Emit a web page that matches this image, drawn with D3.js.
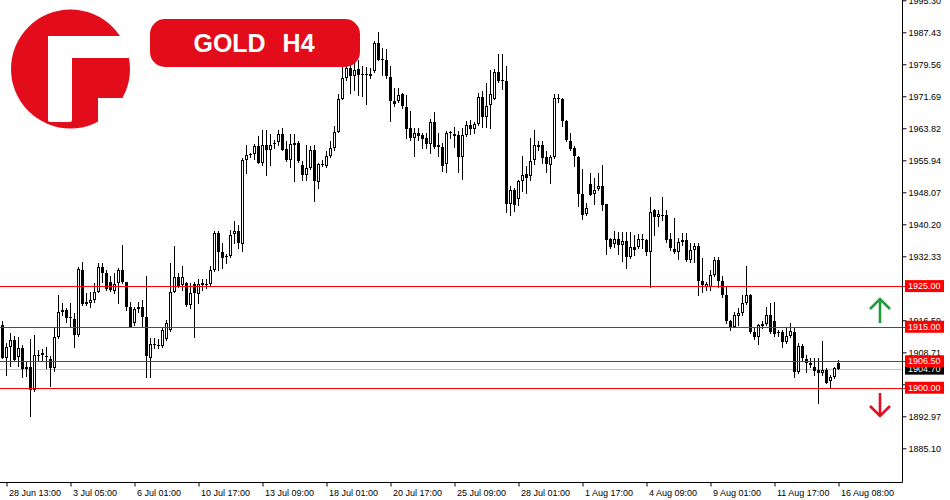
<!DOCTYPE html>
<html><head><meta charset="utf-8">
<script src="https://cdn.jsdelivr.net/npm/d3@7"></script>
<style>html,body{margin:0;padding:0;background:#fff;overflow:hidden}</style>
</head><body>
<svg id="chart" width="950" height="500"></svg>
<script>
// ---- DATA (GOLD H4) ----
const opens = [
1915.4,1907.4,1910.1,1911.8,1907.6,1909.8,1904.6,1905.1,1899.5,1908.1,
1908.6,1907.8,1907.1,1904.9,1912.6,1918.6,1919.1,1917.5,1916.9,1913.0,
1929.0,1920.5,1920.9,1921.6,1923.6,1929.8,1928.2,1926.1,1923.9,1925.7,
1929.0,1925.9,1919.8,1916.0,1919.3,1919.8,1917.5,1907.4,1910.7,1910.5,
1910.3,1911.9,1914.2,1923.6,1927.3,1925.3,1925.8,1920.4,1925.5,1923.1,
1925.3,1925.5,1925.5,1929.0,1938.1,1933.4,1932.3,1932.3,1937.7,1938.5,
1935.4,1956.1,1957.3,1957.6,1959.4,1955.3,1959.8,1958.4,1960.0,1960.5,
1962.4,1958.8,1955.9,1959.8,1960.2,1954.9,1952.4,1954.1,1958.6,1950.5,
1955.0,1954.5,1956.9,1959.0,1962.9,1971.1,1976.2,1978.7,1976.6,1978.5,
1977.2,1977.1,1977.2,1977.8,1984.8,1980.9,1980.7,1976.4,1970.5,1970.6,
1972.3,1969.1,1963.9,1961.4,1962.7,1962.1,1961.4,1960.0,1965.4,1959.6,
1959.2,1955.1,1962.7,1962.4,1962.1,1956.7,1962.1,1964.6,1963.7,1964.9,
1971.5,1966.6,1969.5,1971.1,1977.7,1975.7,1975.4,1945.3,1948.6,1946.5,
1950.9,1952.6,1952.0,1955.9,1959.6,1959.6,1956.8,1954.9,1956.7,1971.3,
1971.0,1965.7,1960.8,1959.0,1956.7,1947.7,1942.8,1950.1,1947.7,1949.0,
1949.6,1945.2,1936.7,1935.4,1936.7,1935.0,1936.0,1932.2,1934.5,1934.7,
1936.7,1936.4,1933.5,1943.6,1941.9,1942.5,1942.5,1936.5,1934.1,1933.5,
1936.4,1936.4,1931.3,1933.9,1934.9,1926.3,1924.9,1924.9,1927.7,1931.3,
1926.3,1922.8,1916.4,1915.0,1917.7,1918.3,1920.8,1922.8,1913.8,1912.4,
1915.2,1915.7,1917.9,1916.4,1913.8,1913.8,1911.3,1912.7,1913.8,1903.9,
1910.3,1907.0,1906.2,1905.0,1904.4,1903.6,1904.4,1901.7,1902.6,1906.2];

const highs = [
1916.3,1911.0,1913.5,1912.7,1912.5,1910.5,1906.6,1912.0,1913.0,1909.3,
1909.5,1910.0,1907.8,1914.7,1922.8,1920.8,1919.6,1920.8,1918.4,1929.8,
1931.0,1923.3,1923.6,1925.8,1930.6,1930.6,1929.0,1927.5,1928.2,1929.5,
1935.1,1926.1,1921.2,1919.9,1921.2,1921.6,1927.5,1912.2,1912.2,1912.0,
1914.7,1916.7,1930.6,1934.9,1928.2,1930.0,1926.0,1925.8,1926.0,1926.8,
1926.8,1926.8,1930.0,1938.6,1938.6,1935.6,1932.9,1938.9,1940.9,1940.1,
1956.5,1959.8,1957.8,1960.0,1962.0,1963.5,1963.5,1962.3,1961.0,1963.5,
1963.9,1960.8,1962.3,1962.3,1960.6,1955.7,1959.6,1959.4,1959.8,1955.3,
1956.1,1958.2,1960.6,1964.3,1972.3,1979.5,1979.9,1979.5,1980.7,1980.7,
1979.1,1978.8,1978.7,1985.2,1987.5,1983.6,1983.2,1979.1,1973.7,1973.7,
1972.5,1972.1,1968.0,1963.9,1963.9,1962.7,1962.7,1966.2,1967.8,1962.7,
1960.2,1963.1,1963.1,1964.1,1963.1,1963.9,1965.5,1965.9,1965.4,1972.5,
1973.1,1975.0,1978.2,1978.5,1982.1,1982.1,1979.1,1949.6,1949.1,1951.2,
1956.9,1954.5,1961.4,1963.5,1960.6,1960.6,1958.2,1957.3,1972.3,1972.3,
1971.3,1965.9,1962.7,1959.4,1956.9,1953.9,1945.5,1952.8,1951.6,1952.8,
1954.7,1945.2,1936.8,1938.6,1938.3,1938.3,1938.3,1938.4,1937.6,1937.8,
1937.8,1936.6,1947.0,1943.9,1943.7,1946.8,1943.6,1938.0,1941.7,1936.8,
1938.0,1938.1,1935.5,1935.5,1935.5,1931.8,1926.1,1929.0,1932.2,1932.2,
1927.5,1924.9,1916.7,1918.7,1919.5,1922.8,1930.0,1923.0,1915.0,1915.7,
1916.3,1919.9,1920.8,1921.2,1914.2,1914.2,1914.6,1916.0,1914.6,1911.1,
1910.8,1908.1,1907.2,1907.2,1907.2,1911.6,1904.8,1903.2,1905.2,1906.7];

const lows = [
1907.2,1903.1,1905.3,1906.6,1905.3,1902.6,1902.9,1893.1,1899.2,1906.8,
1906.8,1904.9,1900.4,1904.2,1912.2,1917.9,1916.2,1915.0,1910.1,1912.7,
1920.4,1920.4,1919.9,1921.2,1923.6,1926.1,1924.1,1923.8,1923.3,1920.9,
1925.8,1919.1,1914.9,1915.4,1918.7,1915.0,1902.7,1902.7,1909.8,1909.8,
1910.0,1911.8,1914.0,1923.6,1924.8,1924.1,1920.1,1919.6,1912.5,1920.9,
1924.1,1924.5,1925.0,1928.7,1929.0,1929.5,1930.7,1932.2,1935.6,1934.4,
1933.6,1952.7,1956.8,1956.3,1955.2,1954.8,1952.4,1954.7,1959.0,1959.8,
1958.5,1955.8,1954.2,1950.9,1955.5,1951.2,1951.2,1953.8,1945.9,1949.1,
1954.5,1954.3,1956.8,1958.5,1962.8,1971.0,1975.7,1972.5,1973.3,1972.1,
1971.7,1969.8,1976.2,1977.7,1980.6,1977.0,1976.2,1965.5,1969.3,1970.3,
1968.8,1961.4,1961.0,1956.9,1961.0,1959.0,1959.0,1957.8,1959.0,1956.9,
1953.4,1953.1,1961.4,1959.2,1953.1,1951.4,1961.9,1962.4,1962.7,1964.6,
1964.1,1964.1,1963.9,1971.0,1975.2,1973.6,1943.2,1942.6,1943.4,1945.0,
1948.3,1947.9,1951.2,1955.0,1958.5,1955.3,1953.1,1950.4,1956.5,1970.3,
1964.3,1960.7,1958.5,1954.5,1944.6,1941.4,1942.6,1947.4,1945.3,1948.7,
1943.6,1933.0,1934.4,1934.6,1933.0,1931.1,1929.5,1931.9,1932.7,1934.4,
1934.4,1932.7,1924.9,1937.6,1939.8,1941.3,1935.9,1933.9,1933.2,1931.6,
1935.1,1931.2,1930.9,1931.0,1922.8,1923.6,1924.1,1924.1,1927.5,1924.9,
1922.3,1916.0,1914.2,1914.9,1915.4,1917.9,1920.6,1913.5,1911.9,1910.8,
1914.7,1915.4,1913.5,1912.7,1912.7,1910.1,1911.0,1912.5,1902.7,1903.6,
1906.8,1903.9,1905.1,1903.2,1896.3,1903.2,1901.1,1900.2,1902.4,1904.6];

const closes = [
1907.3,1910.0,1911.8,1906.7,1909.8,1904.6,1905.1,1899.5,1908.1,1907.9,
1908.0,1907.7,1904.9,1912.4,1918.6,1919.1,1917.2,1917.1,1913.0,1929.1,
1920.5,1921.2,1921.6,1923.6,1929.8,1928.3,1924.2,1924.1,1925.5,1929.0,
1926.1,1919.8,1915.0,1919.4,1919.9,1917.5,1907.7,1910.7,1910.6,1910.6,
1914.2,1916.0,1923.6,1927.3,1925.1,1927.2,1920.4,1923.3,1923.3,1925.4,
1925.7,1925.6,1929.0,1938.1,1933.4,1931.9,1932.4,1937.5,1938.5,1935.6,
1956.0,1957.2,1957.4,1959.4,1955.3,1959.8,1958.4,1959.8,1960.1,1962.4,
1958.6,1955.9,1960.0,1960.2,1955.7,1952.3,1954.1,1958.6,1950.8,1955.0,
1954.9,1956.9,1959.0,1962.9,1970.9,1976.2,1978.7,1976.6,1978.2,1977.0,
1977.1,1977.0,1976.6,1984.8,1980.7,1980.6,1976.6,1970.5,1969.8,1972.1,
1969.3,1963.7,1961.4,1962.7,1961.9,1961.3,1960.0,1965.4,1959.2,1959.2,
1954.6,1962.7,1962.8,1962.0,1956.8,1962.1,1964.6,1963.7,1964.9,1971.5,
1966.6,1969.2,1972.3,1977.7,1975.5,1975.4,1945.3,1948.6,1944.9,1950.8,
1952.4,1951.6,1955.7,1959.6,1959.2,1956.5,1955.0,1956.7,1971.3,1970.9,
1965.7,1961.0,1958.8,1956.9,1947.7,1942.6,1944.2,1947.5,1948.7,1949.6,
1945.0,1936.4,1934.5,1936.7,1935.0,1936.0,1932.2,1934.7,1933.9,1936.5,
1936.4,1933.5,1943.3,1941.9,1942.7,1942.4,1936.4,1934.3,1933.5,1935.8,
1935.8,1931.3,1933.9,1934.9,1926.3,1925.3,1925.5,1927.7,1931.3,1926.3,
1922.8,1916.3,1914.9,1917.9,1918.5,1920.8,1922.8,1913.8,1912.6,1915.4,
1915.7,1917.9,1913.8,1913.2,1913.4,1911.3,1912.7,1914.0,1903.9,1910.3,
1907.2,1906.0,1905.6,1904.2,1903.7,1904.4,1901.2,1902.6,1904.8,1904.7];

const dateLabels = ["28 Jun 13:00","3 Jul 05:00","6 Jul 01:00","10 Jul 17:00","13 Jul 09:00",
  "18 Jul 01:00","20 Jul 17:00","25 Jul 09:00","28 Jul 01:00","1 Aug 17:00",
  "4 Aug 09:00","9 Aug 01:00","11 Aug 17:00","16 Aug 08:00"];
const dateTickBars = [1,17,33,49,65,81,97,113,129,145,161,177,193,209];
const priceTicks = [1995.30,1987.43,1979.56,1971.69,1963.82,1955.94,1948.07,1940.20,
  1932.33,1916.59,1908.71,1900.84,1892.97,1885.10];
const levelValues = [1925.00, 1915.00, 1906.50, 1900.00];
const currentPrice = 1904.70;
const titleText = "GOLD H4";

// ---- LAYOUT ----
const plotRight = 902.5, plotBottom = 482.5;
const RED = "#ff0000", BRAND = "#e20c1b";
const svg = d3.select("#chart");
const font = "'Liberation Sans', Arial, sans-serif";

const bars = opens.map((o, i) => ({i, o, h: Math.max(highs[i], o, closes[i]),
  l: Math.min(lows[i], o, closes[i]), c: closes[i]}));

const x = d3.scaleLinear().domain([0, 1]).range([2.5, 6.5]);
const y = d3.scaleLinear().domain([1885.10, 1987.43]).range([448.3, 32.3]);

svg.append("defs").append("clipPath").attr("id", "plot")
  .append("rect").attr("x", 0).attr("y", 0).attr("width", plotRight).attr("height", plotBottom);

const plot = svg.append("g").attr("clip-path", "url(#plot)");

// current price line (grey)
plot.append("line")
  .attr("x1", 0).attr("x2", plotRight)
  .attr("y1", Math.round(y(currentPrice)) + 0.5).attr("y2", Math.round(y(currentPrice)) + 0.5)
  .attr("stroke", "#c0c0c0").attr("stroke-width", 1);

// candles
const cg = plot.append("g").attr("shape-rendering", "crispEdges");
cg.selectAll("line.wick").data(bars).join("line").attr("class", "wick")
  .attr("x1", d => x(d.i)).attr("x2", d => x(d.i))
  .attr("y1", d => Math.round(y(d.h))).attr("y2", d => Math.round(y(d.l)) + 1)
  .attr("stroke", "#000").attr("stroke-width", 1);

bars.forEach(d => {
  let top = Math.round(Math.min(y(d.o), y(d.c)));
  let bot = Math.round(Math.max(y(d.o), y(d.c)));
  if (bot - top < 1) bot = top + 1;
  const bull = d.c > d.o;
  if (bull && bot - top >= 3) {
    cg.append("rect").attr("x", x(d.i) - 1).attr("y", top + 0.5)
      .attr("width", 2).attr("height", bot - top - 1)
      .attr("fill", "#fff").attr("stroke", "#000").attr("stroke-width", 1)
      .attr("shape-rendering", "auto");
  } else {
    cg.append("rect").attr("x", x(d.i) - 1.5).attr("y", top)
      .attr("width", 3).attr("height", bot - top).attr("fill", "#000");
  }
});

// horizontal levels
svg.selectAll("line.level").data(levelValues).join("line").attr("class", "level")
  .attr("x1", 0).attr("x2", 905)
  .attr("y1", d => Math.round(y(d)) + 0.5).attr("y2", d => Math.round(y(d)) + 0.5)
  .attr("stroke", RED).attr("stroke-width", 1.2);

// right axis
const yAxis = d3.axisRight(y).tickValues(priceTicks).tickSize(4).tickPadding(2)
  .tickFormat(d3.format(".2f"));
const gy = svg.append("g").attr("transform", `translate(${plotRight},0)`).call(yAxis);
gy.select(".domain").remove();
gy.selectAll("text").attr("font-family", font).attr("font-size", 9).attr("fill", "#000");
gy.selectAll("line").attr("stroke", "#000");

svg.append("line").attr("x1", plotRight).attr("x2", plotRight).attr("y1", 0).attr("y2", plotBottom)
  .attr("stroke", "#000").attr("stroke-width", 1);

// bottom axis
const xAxis = d3.axisBottom(x).tickValues(dateTickBars).tickSize(4).tickPadding(3)
  .tickFormat((d, i) => dateLabels[i]);
const gx = svg.append("g").attr("transform", `translate(0,${plotBottom})`).call(xAxis);
gx.select(".domain").remove();
gx.selectAll("text").attr("font-family", font).attr("font-size", 9).attr("fill", "#000")
  .attr("text-anchor", "start").attr("dx", 2);
gx.selectAll("line").attr("stroke", "#000");
svg.append("line").attr("x1", 0).attr("x2", plotRight).attr("y1", plotBottom).attr("y2", plotBottom)
  .attr("stroke", "#000").attr("stroke-width", 1);

// price label boxes
function priceBox(v, fill) {
  const cy = y(v);
  svg.append("rect").attr("x", 905).attr("y", cy - 6).attr("width", 39).attr("height", 12).attr("fill", fill);
  svg.append("text").attr("x", 908).attr("y", cy).attr("dy", "0.35em")
    .attr("font-family", font).attr("font-size", 9).attr("fill", "#fff")
    .text(d3.format(".2f")(v));
}
priceBox(currentPrice, "#000");
levelValues.forEach(v => priceBox(v, RED));

// arrows
const arrows = svg.append("g").attr("fill", "none").attr("stroke-width", 2.6).attr("stroke-linecap", "butt");
arrows.append("path").attr("d", "M880,323 L880,299 M870,309 L880,299 L890,309").attr("stroke", "#1f9d3a");
arrows.append("path").attr("d", "M880,393 L880,416 M870,406 L880,416 L890,406").attr("stroke", "#e0101e");

// logo
const logo = svg.append("g");
logo.append("circle").attr("cx", 70.5).attr("cy", 69).attr("r", 59.5).attr("fill", BRAND);
logo.append("rect").attr("x", 48).attr("y", 36).attr("width", 24).attr("height", 86).attr("rx", 2).attr("fill", "#fff");
logo.append("rect").attr("x", 48).attr("y", 36).attr("width", 90).attr("height", 22).attr("fill", "#fff");
logo.append("rect").attr("x", 98).attr("y", 98).attr("width", 40).attr("height", 40).attr("fill", "#fff");

// title badge
svg.append("rect").attr("x", 150).attr("y", 19).attr("width", 210).attr("height", 48).attr("rx", 15)
  .attr("fill", BRAND);
svg.append("text").attr("x", 254).attr("y", 52.3).attr("text-anchor", "middle")
  .attr("font-family", font).attr("font-weight", "bold").attr("font-size", 25)
  .attr("word-spacing", 10).attr("fill", "#fff").text(titleText);
</script>
</body></html>
